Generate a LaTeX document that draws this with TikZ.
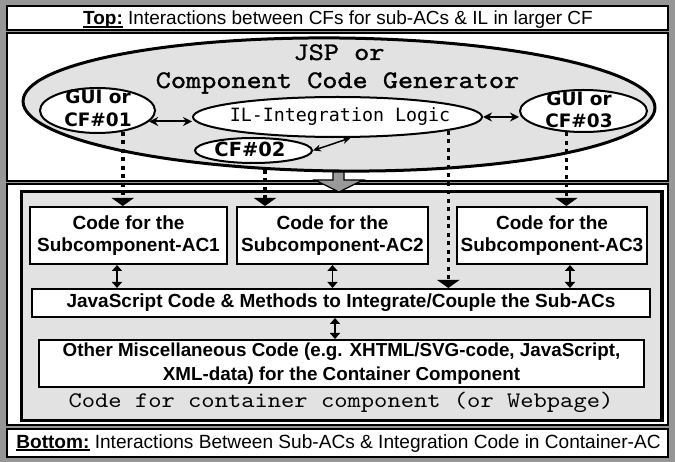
\documentclass[tikz,border=0pt]{standalone}
\usepackage{fontspec}
\setmainfont{Liberation Sans}
\newfontfamily\courfnt[Extension=.otf,FakeStretch=1.14]{lmmono10-regular}
\newfontfamily\courbold[Extension=.otf,FakeStretch=1.14,FakeBold=1.2]{lmmono10-regular}
\newfontfamily\verdfnt{DejaVu Sans}
\newfontfamily\lucfnt{DejaVu Sans Mono}
\usetikzlibrary{arrows.meta,shapes.geometric,calc}
\definecolor{framegray}{HTML}{969696}
\definecolor{dith}{HTML}{E2E2E2}
\definecolor{arrgray}{HTML}{999999}
\newcommand\myul[1]{\setbox0=\hbox{#1}\rlap{\rule[-2.8pt]{\wd0}{1.8pt}}\box0\relax}
\tikzset{
  panel/.style={draw=black, line width=1.3pt, fill=white, inner sep=0pt},
  ell/.style={ellipse, draw=black, line width=2pt, fill=white, inner sep=0pt},
  codebox/.style={draw=black, line width=2pt, fill=white, inner sep=0pt, align=center,
    font=\bfseries\fontsize{19}{22}\selectfont},
  dotarrow/.style={line width=3.5pt, dash pattern=on 4pt off 4.5pt,
    -{Triangle[width=22pt,length=8pt]}},
  dblarrow/.style={line width=2pt, {Stealth[length=9pt,width=9pt]}-{Stealth[length=9pt,width=9pt]}},
  smallarrow/.style={line width=1.6pt, {Triangle[length=6pt,width=10pt]}-{Triangle[length=6pt,width=10pt]}},
  guitext/.style={anchor=base, font=\verdfnt\bfseries\fontsize{18.5}{22}\selectfont},
  titletext/.style={anchor=base, font=\fontsize{19}{20}\selectfont},
}
\begin{document}
\begin{tikzpicture}[x=1pt,y=-1pt]
\fill[framegray] (0,0) rectangle (675,462);
\useasboundingbox (0,0) rectangle (675,462);
% panels
\node[panel, minimum width=661pt, minimum height=24pt] (toptitle) at (337.5,18) {};
\node[panel, minimum width=661pt, minimum height=148pt] (toppanel) at (337.5,107) {};
\node[panel, minimum width=661pt, minimum height=241pt] (botpanel) at (337.5,304.5) {};
\node[panel, minimum width=661pt, minimum height=28pt] (bottitle) at (337.5,443) {};
\node[draw=black, line width=3.5pt, fill=dith, inner sep=0pt, minimum width=640.5pt, minimum height=229pt] (inner) at (341.75,306) {};
% titles
\node[titletext] (toptxt) at (338,25) {\myul{\textbf{Top:}} Interactions between CFs for sub-ACs \& IL in larger CF};
\node[titletext, font=\fontsize{19.1}{20}\selectfont] (bottxt) at (338.5,448) {\myul{\textbf{Bottom:}} Interactions Between Sub-ACs \& Integration Code in Container-AC};
% big ellipse
\node[ell, line width=3pt, fill=dith, minimum width=632pt, minimum height=133pt, rotate=-0.6] (big) at (339,104.5) {};
\node[anchor=base, font=\courbold\fontsize{25.3}{28}\selectfont] (jsp1) at (339,60) {JSP or};
\node[anchor=base, font=\courbold\fontsize{25.3}{28}\selectfont] (jsp2) at (337.5,88) {Component Code Generator};
% small ellipses
\node[ell, minimum width=115pt, minimum height=45pt] (cf1) at (97.5,110.5) {};
\node[ell, minimum width=127pt, minimum height=42pt] (cf3) at (583.5,111) {};
\node[ell, minimum width=289pt, minimum height=40pt] (il) at (337.5,117) {};
\node[ell, minimum width=117pt, minimum height=25pt] (cf2) at (253.5,150.5) {};
\node[guitext] (cf1a) at (98,104) {GUI or};
\node[guitext] (cf1b) at (98,127) {CF\#01};
\node[guitext] (cf3a) at (579,106) {GUI or};
\node[guitext] (cf3b) at (579,127.5) {CF\#03};
\node[guitext, font=\verdfnt\bfseries\fontsize{19.5}{22}\selectfont] (cf2t) at (250,157) {CF\#02};
\node[anchor=base, font=\lucfnt\fontsize{18.3}{22}\selectfont] (iltxt) at (340,122) {IL-Integration Logic};
% arrows in top panel
\draw[dblarrow] (cf1.-12) -- (cf1.-12 -| il.west);
\draw[dblarrow] (il.east) -- (il.east -| cf3.west);
\draw[line width=1.5pt, {Stealth[length=8pt,width=7pt]}-{Stealth[length=8pt,width=7pt]}] (cf2.east) -- (il.-58);
% code boxes
\node[codebox, minimum width=197pt, minimum height=57pt] (ac1) at (128.5,235.5) {Code for the\\Subcomponent-AC1};
\node[codebox, minimum width=191pt, minimum height=57pt] (ac2) at (332.5,235.5) {Code for the\\Subcomponent-AC2};
\node[codebox, minimum width=190pt, minimum height=57pt] (ac3) at (552,235.5) {Code for the\\Subcomponent-AC3};
\node[codebox, minimum width=618pt, minimum height=28pt] (js) at (341,303) {JavaScript Code \& Methods to Integrate/Couple the Sub-ACs};
\node[codebox, minimum width=605pt, minimum height=47pt, font=\bfseries\fontsize{18.8}{24}\selectfont] (misc) at (341.5,363.5) {Other Miscellaneous Code (e.g. XHTML/SVG-code, JavaScript,\\XML-data) for the Container Component};
\node[anchor=base, font=\courfnt\fontsize{22.2}{26}\selectfont] (cont) at (341,407) {Code for container component (or Webpage)};
% dotted arrows
\coordinate (d2) at (265,170);
\draw[dotarrow] (cf1.-40) -- (cf1.-40 |- ac1.north);
\draw[dotarrow] (d2) -- (d2 |- ac2.north);
\draw[dotarrow] (il.-7.5) -- (il.-7.5 |- js.north);
\draw[dotarrow] (cf3.-129) -- (cf3.-129 |- ac3.north);
% big gray arrow
\draw[line width=1.3pt, fill=arrgray, line join=miter]
  (333,172) -- (344,172) -- (344,180) -- (363,180) -- (339,192) -- (315,180) -- (333,180) -- cycle;
% small double arrows
\draw[smallarrow] ([xshift=-11.5pt]ac1.south) -- ([xshift=-11.5pt]ac1.south |- js.north);
\draw[smallarrow] (ac2.south) -- (ac2.south |- js.north);
\draw[smallarrow] ([xshift=18pt]ac3.south) -- ([xshift=18pt]ac3.south |- js.north);
\draw[smallarrow] ([xshift=-6pt]js.south) -- ([xshift=-6pt]js.south |- misc.north);
\end{tikzpicture}
\end{document}
